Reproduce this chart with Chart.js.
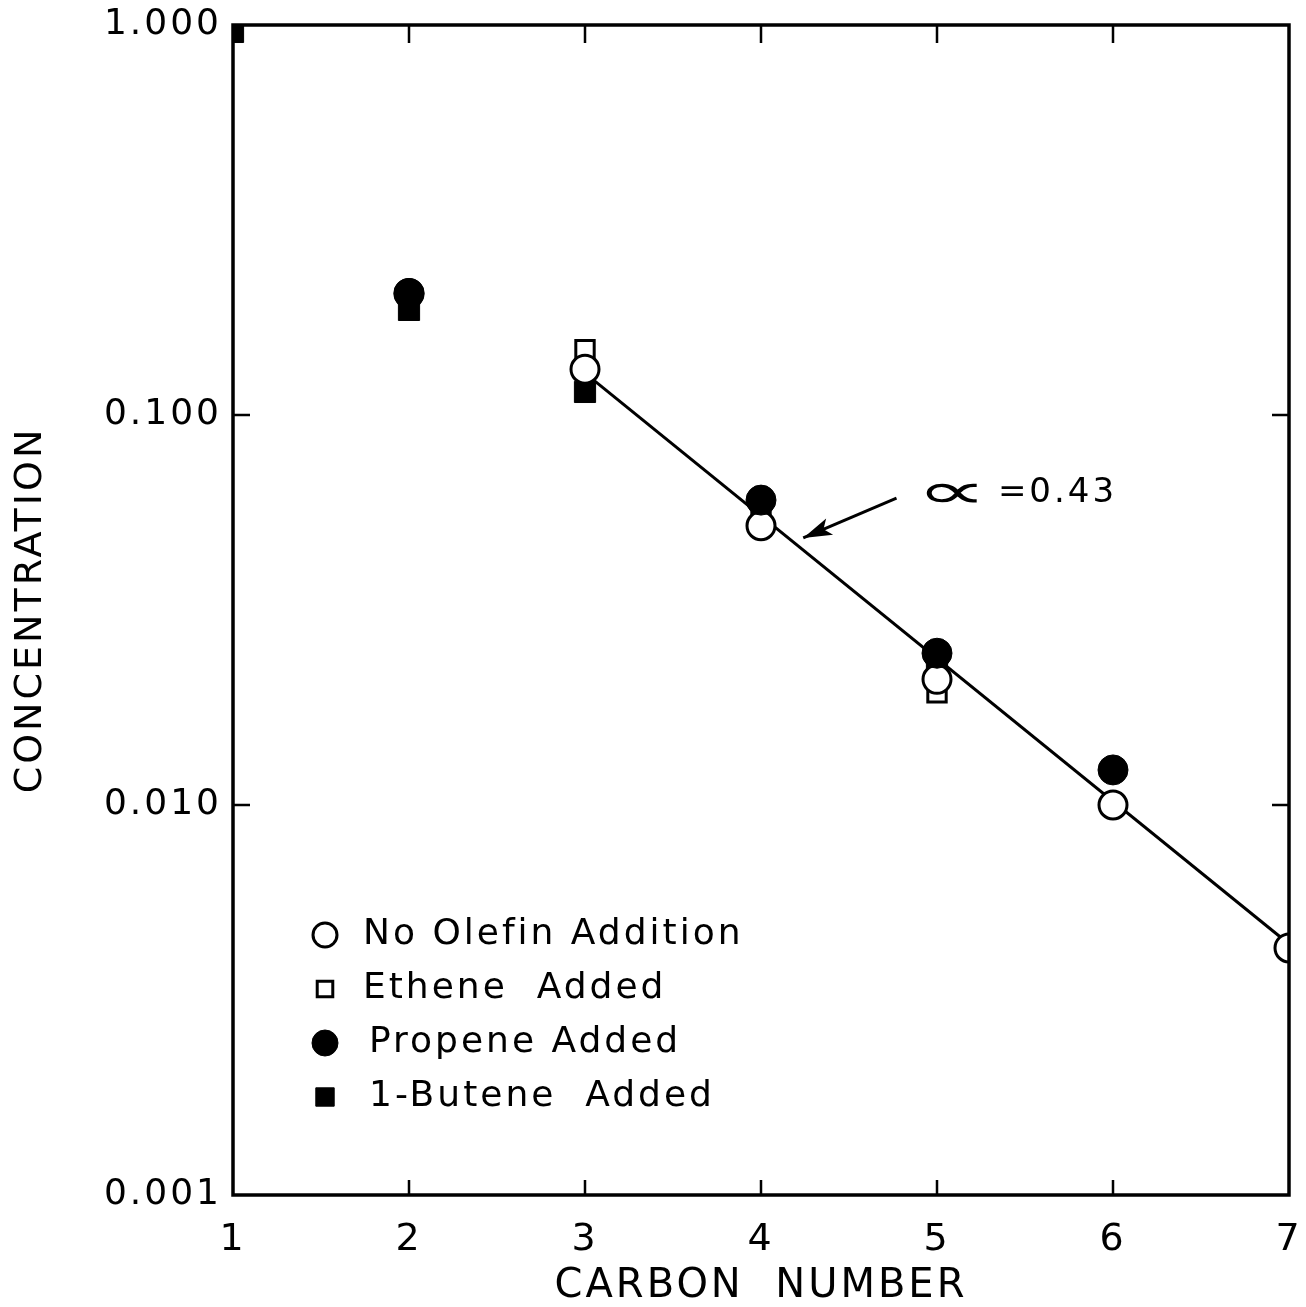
<!DOCTYPE html>
<html>
<head>
<meta charset="utf-8">
<title>Concentration vs carbon number</title>
<script src="https://cdn.jsdelivr.net/npm/chart.js@4.4.0/dist/chart.umd.min.js"></script>
<style>
  html, body { margin: 0; padding: 0; background: #fff; }
  #wrap { width: 1306px; height: 1307px; }
</style>
</head>
<body>
<div id="wrap"><canvas id="chart" width="1306" height="1307"></canvas></div>
<script>
// Data
const carbonNumbers = [1, 2, 3, 4, 5, 6, 7];
const noOlefin = [null, 0.205, 0.131, 0.052, 0.021, 0.0100, 0.0043];
const etheneAdded = [null, null, 0.147, 0.054, 0.0194, null, null];
const propeneAdded = [null, 0.205, null, 0.0605, 0.0245, 0.0123, null];
const buteneAdded = [0.96, 0.186, 0.1146, null, 0.0224, null, null];

// Fitted line (alpha = 0.43)
const fitCarbon = [3, 7];
const fitConc = [0.128, 0.0044];

const xTickValues = [1, 2, 3, 4, 5, 6, 7];
const yTickValues = [0.001, 0.01, 0.1, 1];
const yTickLabels = ['0.001', '0.010', '0.100', '1.000'];

const FONT = '"DejaVu Sans", sans-serif';

function toPoints(xs, ys) {
    return xs.map((x, i) => ({ x: x, y: ys[i] })).filter(p => p.y !== null);
}

// The lettering of the original is spaced out a bit
const spacedText = {
    id: 'spacedText',
    beforeLayout(chart) { chart.ctx.letterSpacing = '3px'; },
    beforeDraw(chart) { chart.ctx.letterSpacing = '3px'; }
};

// Box round the plot and ticks pointing inwards
const frameAndTicks = {
    id: 'frameAndTicks',
    afterDatasetsDraw(chart) {
        const { ctx, chartArea: a, scales: { x, y } } = chart;
        ctx.save();
        ctx.strokeStyle = '#000';
        ctx.lineWidth = 3.5;
        ctx.strokeRect(a.left, a.top, a.right - a.left, a.bottom - a.top);
        ctx.lineWidth = 2.5;
        ctx.beginPath();
        x.ticks.forEach(t => {
            const px = x.getPixelForValue(t.value);
            if (px <= a.left + 2 || px >= a.right - 2) return;
            ctx.moveTo(px, a.bottom);
            ctx.lineTo(px, a.bottom - 15);
            ctx.moveTo(px, a.top);
            ctx.lineTo(px, a.top + 18);
        });
        y.ticks.forEach(t => {
            const py = y.getPixelForValue(t.value);
            if (py <= a.top + 2 || py >= a.bottom - 2) return;
            ctx.moveTo(a.left, py);
            ctx.lineTo(a.left + 17, py);
            ctx.moveTo(a.right, py);
            ctx.lineTo(a.right - 17, py);
        });
        ctx.stroke();
        ctx.restore();
    }
};

// Arrow and "alpha = 0.43" note
const alphaNote = {
    id: 'alphaNote',
    afterDatasetsDraw(chart) {
        const { ctx, scales: { x, y } } = chart;
        const tipX = x.getPixelForValue(4.24), tipY = y.getPixelForValue(0.0484);
        const tailX = x.getPixelForValue(4.77), tailY = y.getPixelForValue(0.0612);
        const ang = Math.atan2(tipY - tailY, tipX - tailX);
        ctx.save();
        ctx.strokeStyle = '#000';
        ctx.fillStyle = '#000';
        ctx.lineWidth = 3;
        ctx.beginPath();
        ctx.moveTo(tailX, tailY);
        ctx.lineTo(tipX, tipY);
        ctx.stroke();
        ctx.beginPath();
        ctx.moveTo(tipX, tipY);
        ctx.lineTo(tipX - 30 * Math.cos(ang - 0.3), tipY - 30 * Math.sin(ang - 0.3));
        ctx.lineTo(tipX - 22 * Math.cos(ang), tipY - 22 * Math.sin(ang));
        ctx.lineTo(tipX - 30 * Math.cos(ang + 0.3), tipY - 30 * Math.sin(ang + 0.3));
        ctx.closePath();
        ctx.fill();

        const tx = x.getPixelForValue(4.88), ty = y.getPixelForValue(0.063);
        ctx.textBaseline = 'middle';
        ctx.textAlign = 'left';
        ctx.letterSpacing = '0px';
        ctx.save();
        ctx.translate(tx, ty);
        ctx.scale(2.0, 1);
        ctx.font = '50px ' + FONT;
        ctx.fillText('\u221D', 0, 2);
        ctx.restore();
        ctx.letterSpacing = '3px';
        ctx.font = '34px ' + FONT;
        ctx.fillText('=0.43', tx + 82, ty);
        ctx.restore();
    }
};

// Legend drawn inside the plot, lower left
const innerLegend = {
    id: 'innerLegend',
    afterDatasetsDraw(chart) {
        const { ctx, chartArea: a } = chart;
        const items = chart.data.datasets.filter(d => d.showInLegend);
        ctx.save();
        ctx.font = '36px ' + FONT;
        ctx.letterSpacing = '3px';
        ctx.textBaseline = 'middle';
        items.forEach((d, i) => {
            const rowY = a.top + 910 + i * 54;
            const mx = a.left + 92;
            ctx.fillStyle = d.backgroundColor;
            ctx.strokeStyle = d.borderColor;
            ctx.lineWidth = d.borderWidth;
            Chart.helpers.drawPoint(ctx, {
                pointStyle: d.pointStyle,
                radius: d.pointRadius - 2,
                rotation: 0,
                borderWidth: d.borderWidth
            }, mx, rowY);
            ctx.fillStyle = '#000';
            ctx.fillText(d.label, a.left + 130 + (d.textShift || 0), rowY);
        });
        ctx.restore();
    }
};

const ctx = document.getElementById('chart').getContext('2d');
new Chart(ctx, {
    type: 'scatter',
    data: {
        datasets: [
            {
                type: 'line',
                label: 'fit',
                data: toPoints(fitCarbon, fitConc),
                borderColor: '#000',
                borderWidth: 3,
                pointRadius: 0,
                fill: false,
                order: 10
            },
            {
                label: 'No Olefin Addition',
                showInLegend: true,
                data: toPoints(carbonNumbers, noOlefin),
                pointStyle: 'circle',
                pointRadius: 14,
                backgroundColor: '#fff',
                borderColor: '#000',
                borderWidth: 3,
                clip: 0,
                order: 2
            },
            {
                label: 'Ethene  Added',
                showInLegend: true,
                data: toPoints(carbonNumbers, etheneAdded),
                pointStyle: 'rect',
                pointRadius: 13,
                backgroundColor: '#fff',
                borderColor: '#000',
                borderWidth: 3,
                clip: 0,
                order: 4
            },
            {
                label: 'Propene Added',
                showInLegend: true,
                textShift: 6,
                data: toPoints(carbonNumbers, propeneAdded),
                pointStyle: 'circle',
                pointRadius: 15,
                backgroundColor: '#000',
                borderColor: '#000',
                borderWidth: 1,
                clip: 0,
                order: 1
            },
            {
                label: '1-Butene  Added',
                showInLegend: true,
                textShift: 6,
                data: toPoints(carbonNumbers, buteneAdded),
                pointStyle: 'rect',
                pointRadius: 15,
                backgroundColor: '#000',
                borderColor: '#000',
                borderWidth: 1,
                clip: 0,
                order: 3
            }
        ]
    },
    options: {
        responsive: false,
        animation: false,
        layout: { padding: { top: 25, right: 13, left: 0, bottom: 0 } },
        plugins: {
            legend: { display: false },
            tooltip: { enabled: false }
        },
        scales: {
            x: {
                type: 'linear',
                min: 1,
                max: 7,
                afterBuildTicks: scale => { scale.ticks = xTickValues.map(v => ({ value: v })); },
                afterFit: scale => {
                    scale.height = 112;
                    scale.paddingLeft = 0;
                    scale.paddingRight = 0;
                },
                grid: { display: false, drawTicks: false },
                border: { display: false },
                ticks: {
                    padding: 22,
                    color: '#000',
                    maxRotation: 0,
                    font: { family: FONT, size: 38 },
                    callback: v => String(v)
                },
                title: {
                    display: true,
                    text: 'CARBON  NUMBER',
                    color: '#000',
                    font: { family: FONT, size: 40 },
                    padding: { top: 0, bottom: -4 }
                }
            },
            y: {
                type: 'logarithmic',
                min: 0.001,
                max: 1,
                afterBuildTicks: scale => { scale.ticks = yTickValues.map(v => ({ value: v })); },
                afterFit: scale => {
                    scale.width = 233;
                    scale.paddingTop = 0;
                    scale.paddingBottom = 0;
                },
                grid: { display: false, drawTicks: false },
                border: { display: false },
                ticks: {
                    padding: 11,
                    color: '#000',
                    font: { family: FONT, size: 36 },
                    callback: v => yTickLabels[yTickValues.indexOf(v)]
                },
                title: {
                    display: true,
                    text: 'CONCENTRATION',
                    color: '#000',
                    font: { family: FONT, size: 38 },
                    padding: { top: 8, bottom: 0 }
                }
            }
        }
    },
    plugins: [spacedText, frameAndTicks, alphaNote, innerLegend]
});
</script>
</body>
</html>
